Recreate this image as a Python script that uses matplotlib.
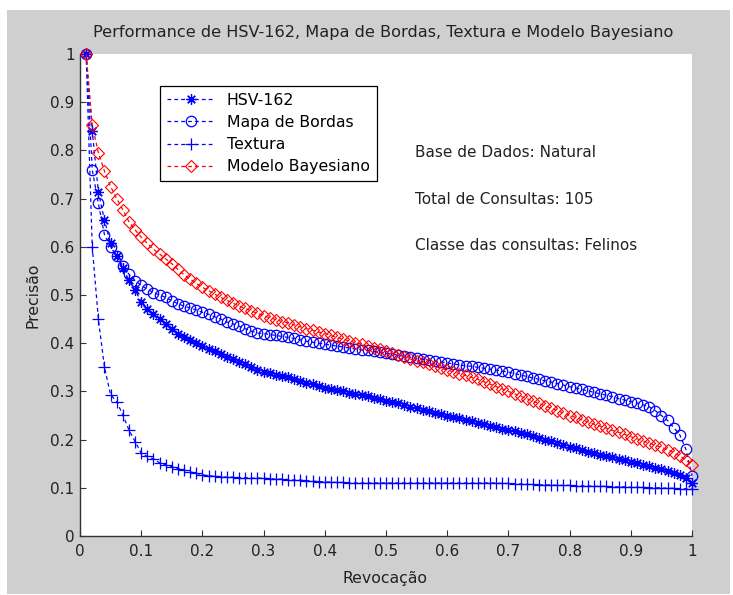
import numpy as np
import matplotlib
matplotlib.use('Agg')
import matplotlib.pyplot as plt
from matplotlib.patches import Rectangle

# niveis de revocacao (0.01 ... 1.00)
revocacao = np.round(np.arange(1, 101) * 0.01, 2)

# precisao media para cada descritor
hsv_162 = [
    1.000, 0.840, 0.714, 0.655, 0.607, 0.580, 0.555, 0.531, 0.510, 0.486,
    0.470, 0.460, 0.450, 0.440, 0.430, 0.420, 0.413, 0.406, 0.400, 0.394,
    0.388, 0.384, 0.378, 0.372, 0.368, 0.362, 0.356, 0.350, 0.345, 0.341,
    0.338, 0.335, 0.332, 0.329, 0.325, 0.322, 0.318, 0.315, 0.311, 0.308,
    0.305, 0.302, 0.300, 0.297, 0.295, 0.293, 0.290, 0.287, 0.284, 0.281,
    0.278, 0.275, 0.272, 0.268, 0.265, 0.262, 0.259, 0.256, 0.253, 0.250,
    0.247, 0.244, 0.241, 0.238, 0.235, 0.232, 0.229, 0.226, 0.223, 0.220,
    0.217, 0.214, 0.211, 0.207, 0.204, 0.200, 0.197, 0.193, 0.189, 0.185,
    0.182, 0.178, 0.175, 0.172, 0.169, 0.166, 0.163, 0.160, 0.157, 0.154,
    0.151, 0.148, 0.145, 0.142, 0.139, 0.135, 0.131, 0.126, 0.120, 0.110]

mapa_bordas = [
    1.000, 0.760, 0.690, 0.625, 0.600, 0.580, 0.560, 0.543, 0.530, 0.520,
    0.512, 0.505, 0.500, 0.495, 0.488, 0.482, 0.477, 0.473, 0.469, 0.464,
    0.460, 0.455, 0.450, 0.444, 0.440, 0.435, 0.430, 0.425, 0.421, 0.420,
    0.418, 0.416, 0.414, 0.412, 0.410, 0.407, 0.404, 0.402, 0.400, 0.398,
    0.396, 0.394, 0.392, 0.390, 0.388, 0.386, 0.385, 0.383, 0.381, 0.379,
    0.377, 0.375, 0.373, 0.371, 0.369, 0.367, 0.365, 0.363, 0.361, 0.359,
    0.357, 0.355, 0.353, 0.352, 0.350, 0.348, 0.346, 0.344, 0.342, 0.340,
    0.337, 0.334, 0.331, 0.328, 0.325, 0.322, 0.319, 0.316, 0.313, 0.310,
    0.307, 0.304, 0.301, 0.298, 0.295, 0.292, 0.289, 0.285, 0.282, 0.279,
    0.276, 0.272, 0.268, 0.260, 0.250, 0.240, 0.225, 0.210, 0.180, 0.125]

textura = [
    1.000, 0.600, 0.450, 0.350, 0.293, 0.279, 0.251, 0.220, 0.196, 0.172,
    0.165, 0.160, 0.152, 0.148, 0.144, 0.140, 0.137, 0.133, 0.130, 0.127,
    0.125, 0.124, 0.123, 0.122, 0.122, 0.121, 0.121, 0.120, 0.120, 0.120,
    0.119, 0.118, 0.118, 0.117, 0.116, 0.116, 0.115, 0.114, 0.113, 0.112,
    0.112, 0.111, 0.111, 0.110, 0.110, 0.110, 0.110, 0.110, 0.110, 0.110,
    0.110, 0.110, 0.110, 0.110, 0.110, 0.110, 0.110, 0.110, 0.110, 0.110,
    0.110, 0.110, 0.110, 0.110, 0.110, 0.110, 0.110, 0.110, 0.109, 0.109,
    0.108, 0.108, 0.107, 0.107, 0.106, 0.106, 0.106, 0.105, 0.105, 0.105,
    0.104, 0.104, 0.104, 0.103, 0.103, 0.103, 0.102, 0.102, 0.102, 0.101,
    0.101, 0.101, 0.100, 0.100, 0.100, 0.099, 0.099, 0.098, 0.098, 0.097]

modelo_bayesiano = [
    1.000, 0.853, 0.795, 0.757, 0.725, 0.700, 0.677, 0.652, 0.635, 0.620,
    0.607, 0.595, 0.585, 0.575, 0.565, 0.553, 0.542, 0.533, 0.524, 0.516,
    0.509, 0.502, 0.495, 0.489, 0.483, 0.477, 0.472, 0.467, 0.462, 0.457,
    0.453, 0.449, 0.445, 0.442, 0.438, 0.434, 0.430, 0.427, 0.423, 0.420,
    0.416, 0.412, 0.408, 0.405, 0.401, 0.398, 0.394, 0.390, 0.387, 0.383,
    0.379, 0.375, 0.371, 0.367, 0.363, 0.360, 0.356, 0.352, 0.348, 0.344,
    0.341, 0.337, 0.333, 0.329, 0.325, 0.320, 0.315, 0.310, 0.305, 0.300,
    0.295, 0.290, 0.285, 0.280, 0.275, 0.270, 0.265, 0.260, 0.255, 0.250,
    0.246, 0.241, 0.237, 0.232, 0.228, 0.224, 0.219, 0.215, 0.211, 0.206,
    0.202, 0.197, 0.193, 0.188, 0.184, 0.179, 0.173, 0.166, 0.158, 0.147]

nomes = ['HSV-162', 'Mapa de Bordas', 'Textura', 'Modelo Bayesiano']
infos = ['Base de Dados: Natural', 'Total de Consultas: 105',
         'Classe das consultas: Felinos']
ticks = [0, 0.1, 0.2, 0.3, 0.4, 0.5, 0.6, 0.7, 0.8, 0.9, 1]
tick_labels = ['0', '0.1', '0.2', '0.3', '0.4', '0.5', '0.6', '0.7', '0.8', '0.9', '1']

plt.rcParams['font.family'] = ['DejaVu Sans']
fs = 10

W, H = 733, 595
fig = plt.figure(figsize=(W / 100, H / 100), dpi=100)
fig.patch.set_facecolor('white')
# fundo cinza da janela do matlab
fig.patches.append(Rectangle((7 / W, 1 / H), 723 / W, 584 / H,
                             transform=fig.transFigure, facecolor='#cfcfcf',
                             edgecolor='none', zorder=-10))

ax = fig.add_axes([80 / W, 59 / H, 612 / W, 482 / H])
ax.set_facecolor('white')

dash = (0, (3, 2.5))
estilos = [
    dict(color='blue', marker=(8, 2, 0), ms=7.5, mew=0.9),
    dict(color='blue', marker='o', ms=7.5, mfc='none', mew=0.9),
    dict(color='blue', marker='+', ms=9, mew=0.9),
    dict(color='red', marker='D', ms=6.5, mfc='none', mew=0.8),
]
series = [hsv_162, mapa_bordas, textura, modelo_bayesiano]
for y, nome, st in zip(series, nomes, estilos):
    ax.plot(revocacao, y, linestyle=dash, lw=0.9, label=nome,
            clip_on=False, **st)

ax.set_xlim(0, 1)
ax.set_ylim(0, 1)
ax.set_xticks(ticks)
ax.set_xticklabels(tick_labels)
ax.set_yticks(ticks)
ax.set_yticklabels(tick_labels)
ax.tick_params(direction='in', length=4, width=0.8, colors='#333333',
               labelsize=fs + 1, labelcolor='#222222')
ax.tick_params(axis='x', pad=6)
ax.tick_params(axis='y', pad=4)
for s in ['top', 'right']:
    ax.spines[s].set_visible(False)
for s in ['left', 'bottom']:
    ax.spines[s].set_color('#333333')
    ax.spines[s].set_linewidth(1.0)

leg = ax.legend(loc='upper left', bbox_to_anchor=(0.131, 0.934),
                borderaxespad=0, fontsize=fs + 1.3, handlelength=3,
                handletextpad=0.8, labelspacing=0.45, borderpad=0.45,
                fancybox=False, framealpha=1, edgecolor='black')
leg.get_frame().set_linewidth(0.9)

for i, t in enumerate(infos):
    ax.text(0.547, 0.795 - i * 0.096, t, fontsize=fs + 1, color='#222222',
            ha='left', va='center')

fig.text(383 / W, 1 - 33 / H,
         'Performance de HSV-162, Mapa de Bordas, Textura e Modelo Bayesiano',
         ha='center', va='center', fontsize=fs + 1.6, color='#222222')
fig.text(33 / W, 1 - 295 / H, 'Precisão', rotation=90, ha='center',
         va='center', fontsize=fs + 1.3, color='#222222')
fig.text(385 / W, 1 - 578 / H, 'Revocação', ha='center', va='center',
         fontsize=fs + 1.3, color='#222222')

fig.savefig('out.png', dpi=100, facecolor=fig.get_facecolor())
